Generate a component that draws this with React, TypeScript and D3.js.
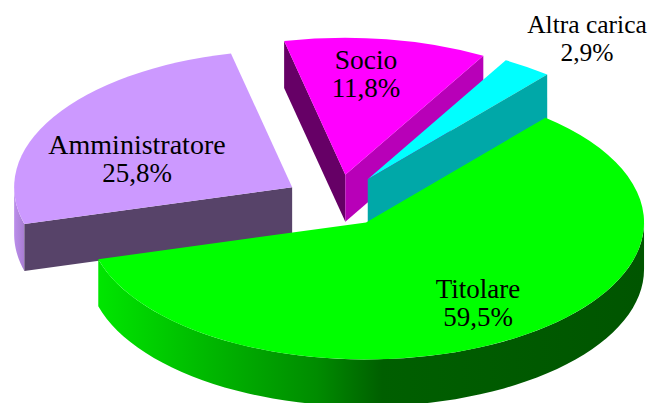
import React from 'react';
import * as d3 from 'd3';

const categories = ['Titolare', 'Amministratore', 'Socio', 'Altra carica'];
const shares = [59.5, 25.8, 11.8, 2.9];
const shareLabels = ['59,5%', '25,8%', '11,8%', '2,9%'];

const topColors = ['#00ff00', '#cc99ff', '#ff00ff', '#00ffff'];
// dark tone of the cut faces, left cut / right cut
const leftCutColors = ['#00aa00', '#574369', '#660066', '#00a8a8'];
const rightCutColors = ['#00aa00', '#574369', '#b800b8', '#00a8a8'];

const labelAnchors = [
  [478, 298],
  [137, 154],
  [366, 69],
  [587, 33],
];
const nameSizes = [27, 28, 27.5, 25.5];

const width = 662;
const height = 403;
const cx = 337.5;
const cy = 200.5;
const rx = 278;
const ry = 137;
const depth = 47;
const explode = 0.19;
const firstAngle = (40.2 * Math.PI) / 180;
const lineGap = 28;

const pie = d3
  .pie<number>()
  .sort(null)
  .startAngle(firstAngle)
  .endAngle(firstAngle + Math.PI * 2);

const arc = d3.arc<d3.PieArcDatum<number>>().innerRadius(0).outerRadius(rx);

const project = (a: number, ox: number, oy: number, dy = 0): [number, number] => [
  ox + Math.sin(a) * rx,
  oy - Math.cos(a) * ry + dy,
];

// band on the rim between two angles
function rimPath(a0: number, a1: number, ox: number, oy: number) {
  const steps = d3.range(0, 61).map((i) => a0 + ((a1 - a0) * i) / 60);
  const top = steps.map((a) => project(a, ox, oy));
  const bottom = steps.map((a) => project(a, ox, oy, depth)).reverse();
  return d3.line()([...top, ...bottom]) + 'Z';
}

function cutPath(a: number, ox: number, oy: number) {
  const p = project(a, ox, oy);
  const q = project(a, ox, oy, depth);
  return d3.line()([[ox, oy], p, q, [ox, oy + depth]]) + 'Z';
}

export default function App() {
  const slices = pie(shares);
  const centers = slices.map((s) => {
    const mid = (s.startAngle + s.endAngle) / 2;
    return [cx + Math.sin(mid) * rx * explode, cy - Math.cos(mid) * ry * explode];
  });

  const titolare = slices[0];
  const amm = slices[1];
  const socio = slices[2];
  const altra = slices[3];
  const face = (i: number) => (
    <path
      d={arc(slices[i]) as string}
      fill={topColors[i]}
      transform={`translate(${centers[i][0]},${centers[i][1]}) scale(1,${ry / rx})`}
    />
  );

  return (
    <svg
      width={width}
      height={height}
      style={{ position: 'absolute', left: 0, top: 0, display: 'block', background: '#fff' }}
    >
      <defs>
        <linearGradient id="rimGreen" gradientUnits="userSpaceOnUse" x1={98} x2={644} y1={0} y2={0}>
          <stop offset="0" stopColor="#00e600" />
          <stop offset="0.2" stopColor="#00b800" />
          <stop offset="0.4" stopColor="#008c00" />
          <stop offset="0.52" stopColor="#005f00" />
          <stop offset="1" stopColor="#005500" />
        </linearGradient>
        <linearGradient id="rimLilac" gradientUnits="userSpaceOnUse" x1={13} x2={25} y1={0} y2={0}>
          <stop offset="0" stopColor="#bd8fee" />
          <stop offset="1" stopColor="#a67ccf" />
        </linearGradient>
      </defs>

      {/* socio */}
      <path d={cutPath(socio.startAngle, centers[2][0], centers[2][1])} fill={leftCutColors[2]} />
      <path d={cutPath(socio.endAngle, centers[2][0], centers[2][1])} fill={rightCutColors[2]} />
      {face(2)}

      {/* altra carica */}
      {face(3)}
      <path d={cutPath(altra.endAngle, centers[3][0], centers[3][1])} fill={rightCutColors[3]} />

      {/* amministratore */}
      <path
        d={rimPath(amm.startAngle, Math.PI * 1.5, centers[1][0], centers[1][1])}
        fill="url(#rimLilac)"
      />
      <path d={cutPath(amm.startAngle, centers[1][0], centers[1][1])} fill={leftCutColors[1]} />
      {face(1)}

      {/* titolare */}
      <path
        d={rimPath(Math.PI / 2, titolare.endAngle, centers[0][0], centers[0][1])}
        fill="url(#rimGreen)"
      />
      {face(0)}

      <g fontFamily="'Liberation Serif', serif" fontSize={27} fill="#000" textAnchor="middle">
        {categories.map((c, i) => (
          <text key={c} x={labelAnchors[i][0]} y={labelAnchors[i][1]}>
            <tspan fontSize={nameSizes[i]}>{c}</tspan>
            <tspan x={labelAnchors[i][0]} dy={lineGap} fontSize={i === 3 ? nameSizes[i] : 27}>
              {shareLabels[i]}
            </tspan>
          </text>
        ))}
      </g>
    </svg>
  );
}
